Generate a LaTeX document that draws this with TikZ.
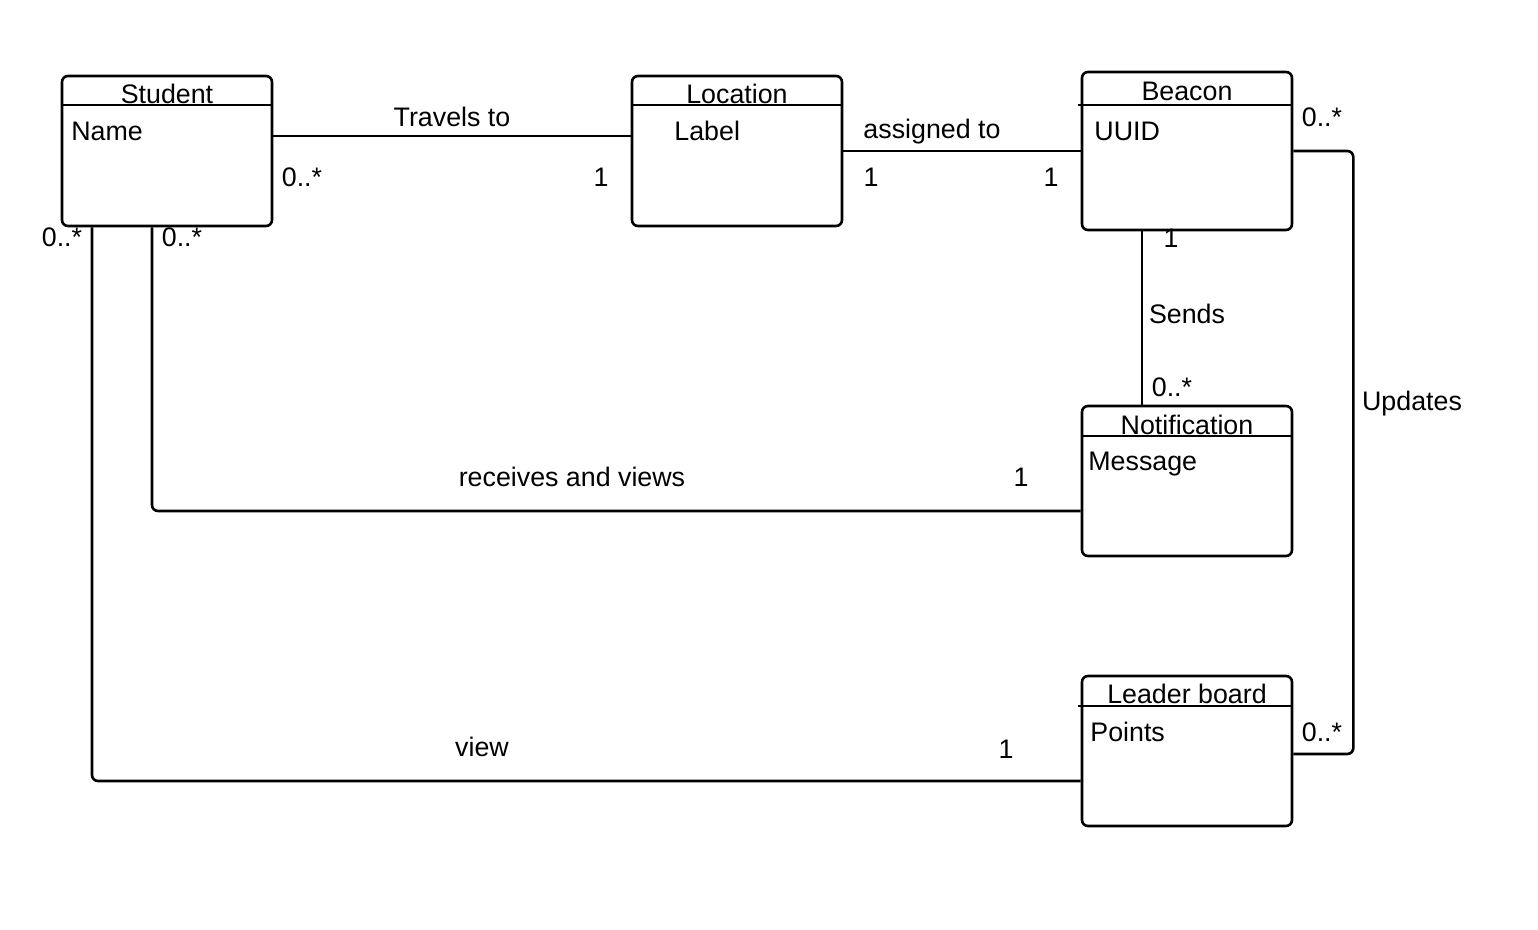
\documentclass[tikz,border=0pt]{standalone}
\usepackage{fontspec}
\setmainfont{Liberation Sans}
\usepackage{tikz}
\usetikzlibrary{positioning}

\begin{document}
\begin{tikzpicture}[
    x=0.5pt, y=-0.5pt,
    font=\fontsize{13.4}{15}\selectfont,
    classbox/.style={rectangle, rounded corners=3pt, draw=black, line width=1.3pt, minimum width=105pt, minimum height=75pt, inner sep=0pt},
    title/.style={anchor=base, inner sep=0pt},
    attr/.style={anchor=base west, inner sep=0pt},
    mult/.style={inner sep=0pt},
    assoc/.style={line width=1.3pt, rounded corners=3pt}
]
\useasboundingbox (0,0) rectangle (1538,930);

% classes
\node[classbox] (student) at (167,151) {};
\node[classbox] (location) at (737,151) {};
\node[classbox, minimum height=79pt] (beacon) at (1187,151) {};
\node[classbox] (notif) at (1187,481) {};
\node[classbox] (leader) at (1187,751) {};

% header lines
\draw[line width=1.3pt] (62,105) -- (272,105);
\draw[line width=1.3pt] (632,105) -- (842,105);
\draw[line width=1.3pt] (1078,105) -- (1292,105);
\draw[line width=1.3pt] (1082,436) -- (1292,436);
\draw[line width=1.3pt] (1078,706) -- (1292,706);

\node[title] (studentT) at (167,104) {Student};
\node[title] (locationT) at (737,104) {Location};
\node[title] (beaconT) at (1187,101) {Beacon};
\node[title] (notifT) at (1187,435) {Notification};
\node[title] (leaderT) at (1187,704) {Leader board};

\node[attr] (studentA) at (71,141) {Name};
\node[attr] (locationA) at (674,141) {Label};
\node[attr] (beaconA) at (1094,141) {UUID};
\node[attr] (notifA) at (1088,471) {Message};
\node[attr] (leaderA) at (1090,741) {Points};

% associations
\draw[assoc] ([yshift=7.5pt]student.east) -- ([yshift=7.5pt]location.west);
\draw[assoc] (location.east) -- (beacon.west);
\draw[assoc] ([xshift=-22.5pt]beacon.south) -- ([xshift=-22.5pt]beacon.south |- notif.north);
\draw[assoc] (beacon.east) -- ++(30pt,0) |- ([yshift=-1.5pt]leader.east);
\draw[assoc] ([xshift=-7.5pt]student.south) |- ([yshift=-15pt]notif.west);
\draw[assoc] ([xshift=-37.5pt]student.south) |- ([yshift=-15pt]leader.west);

% labels
\node[mult] (travels) at (452,117) {Travels to};
\node[mult] (m1) at (302,177) {0..*};
\node[mult] (m2) at (601,177) {1};
\node[mult] (assigned) at (932,132) {assigned to};
\node[mult] (m3) at (871,177) {1};
\node[mult] (m4) at (1051,177) {1};
\node[mult] (m5) at (1171,238) {1};
\node[mult] (sends) at (1187,314) {Sends};
\node[mult] (m6) at (1172,387) {0..*};
\node[mult] (m7) at (1322,117) {0..*};
\node[mult] (updates) at (1412,404) {Updates};
\node[mult] (m8) at (1322,732) {0..*};
\node[mult] (m9) at (182,237) {0..*};
\node[mult] (receives) at (572,477) {receives and views};
\node[mult] (m10) at (1021,477) {1};
\node[mult] (m11) at (62,237) {0..*};
\node[mult] (view) at (482,747) {view};
\node[mult] (m12) at (1006,749) {1};

\end{tikzpicture}
\end{document}
